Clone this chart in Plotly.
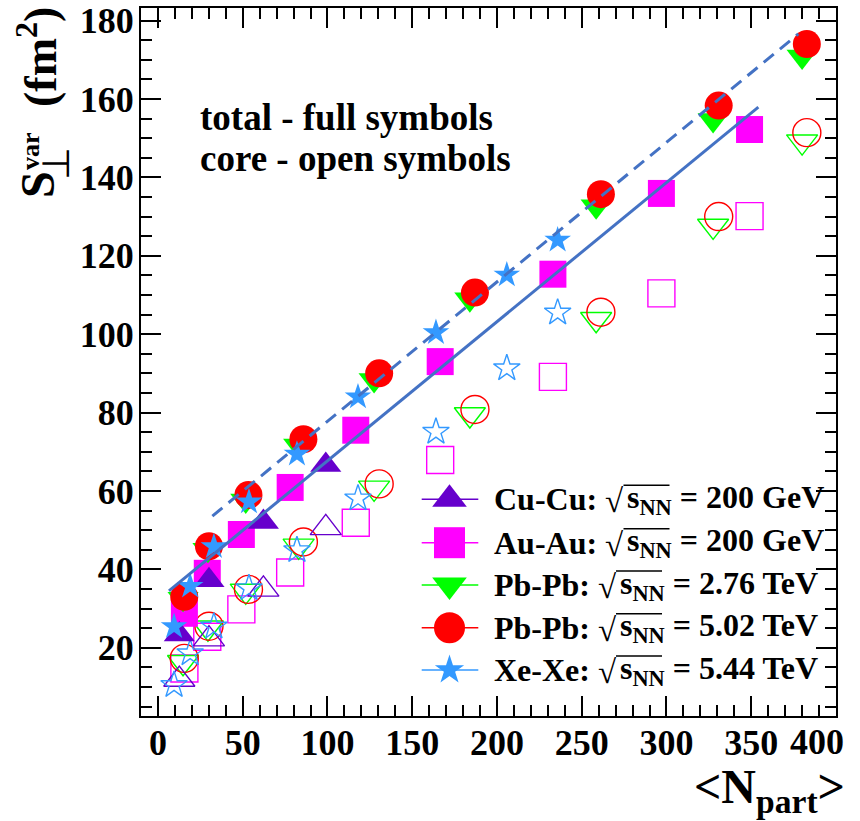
import plotly.graph_objects as go

# ---------------- data ----------------
cucu_npart = [99.0, 62.2, 30.1, 12.6]
cucu_total = [66.6, 52.1, 37.2, 23.4]
cucu_core = [50.6, 34.9, 22.2, 11.9]

auau_npart = [349.0, 297.0, 233.0, 166.5, 116.7, 78.0, 49.2, 29.1, 15.6]
auau_total = [152.2, 135.9, 115.3, 93.0, 75.5, 60.9, 48.9, 39.0, 28.8]
auau_core = [130.1, 110.4, 89.1, 67.9, 51.9, 39.2, 29.8, 22.8, 14.7]

pb276_npart = [380.0, 327.5, 258.5, 184.0, 127.5, 83.0, 51.8, 29.5, 14.8]
pb276_total = [170.8, 154.6, 132.6, 108.9, 88.3, 71.6, 57.6, 45.0, 32.5]
pb276_core = [149.1, 127.6, 103.8, 79.5, 60.8, 46.0, 34.5, 25.1, 16.3]

pb502_npart = [382.8, 330.8, 261.3, 187.0, 130.5, 85.8, 53.4, 30.1, 15.5]
pb502_total = [174.0, 158.3, 135.7, 110.6, 90.0, 73.2, 59.0, 45.9, 33.0]
pb502_core = [151.4, 130.0, 105.6, 80.8, 61.8, 47.0, 34.9, 25.5, 17.3]

xexe_npart = [235.8, 205.8, 164.0, 118.0, 82.0, 53.7, 33.0, 19.0, 9.5]
xexe_total = [124.0, 115.1, 100.4, 84.0, 69.4, 57.2, 45.8, 35.7, 25.4]
xexe_core = [105.5, 91.3, 75.1, 58.1, 44.9, 35.2, 25.4, 18.6, 10.5]

# straight-line fits drawn on the chart (end points)
fit_dashed_x = [32.1, 377.8]
fit_dashed_y = [53.6, 176.6]
fit_solid_x = [6.5, 354.2]
fit_solid_y = [34.5, 157.9]

x_ticks = [0, 50, 100, 150, 200, 250, 300, 350, 400]
# last label is drawn shifted inside the frame (as in the reference)
x_ticktext = ["0", "50", "100", "150", "200", "250", "300", "350", ""]
x_last_label = "400"
y_ticks = [20, 40, 60, 80, 100, 120, 140, 160, 180]

systems = ["Cu-Cu:", "Au-Au:", "Pb-Pb:", "Pb-Pb:", "Xe-Xe:"]
energies = ["= 200 GeV", "= 200 GeV", "= 2.76 TeV", "= 5.02 TeV", "= 5.44 TeV"]

# ---------------- style ----------------
FONT = "Liberation Serif"
C_CU = "#6600CC"
C_AU = "#FF00FF"
C_PB276 = "#00FF00"
C_PB502 = "#FF0000"
C_XE = "#3399FF"
C_FIT = "#4472C4"

W, H = 860, 821
PL, PR, PT, PB = 141, 836, 8, 716


def px(x):
    return (x - PL) / (PR - PL)


def py(y):
    return (PB - y) / (PB - PT)


fig = go.Figure()

series = [
    (auau_npart, auau_total, auau_core, C_AU, "square", 27),
    (pb276_npart, pb276_total, pb276_core, C_PB276, "triangle-down", 27),
    (pb502_npart, pb502_total, pb502_core, C_PB502, "circle", 28),
    (cucu_npart, cucu_total, cucu_core, C_CU, "triangle-up", 27),
    (xexe_npart, xexe_total, xexe_core, C_XE, "star", 20),
]

# open symbols (core)
for xs, tot, core, col, sym, size in series:
    fig.add_trace(go.Scatter(
        x=xs, y=core, mode="markers", showlegend=False,
        marker=dict(symbol=sym + "-open", size=size, color=col,
                    line=dict(width=1.4, color=col))))
# full symbols (total)
for xs, tot, core, col, sym, size in series:
    fig.add_trace(go.Scatter(
        x=xs, y=tot, mode="markers", showlegend=False,
        marker=dict(symbol=sym, size=size, color=col, line=dict(width=0))))

# fit lines
fig.add_trace(go.Scatter(x=fit_dashed_x, y=fit_dashed_y, mode="lines",
                         showlegend=False,
                         line=dict(color=C_FIT, width=3, dash="13px,8px")))
fig.add_trace(go.Scatter(x=fit_solid_x, y=fit_solid_y, mode="lines",
                         showlegend=False,
                         line=dict(color=C_FIT, width=3)))

# ---------------- hand-made legend on an overlay axis ----------------
leg_rows = [499.3, 542.7, 585.0, 627.7, 670.0]
leg_syms = [("triangle-up", C_CU, 30), ("square", C_AU, 31),
            ("triangle-down", C_PB276, 30), ("circle", C_PB502, 31),
            ("star", C_XE, 22)]
annotations = []
shapes = []
s_left = [625.0, 625.0, 617.5, 617.5, 617.5]
for i, yrow in enumerate(leg_rows):
    sym, col, size = leg_syms[i]
    fig.add_trace(go.Scatter(x=[px(421.7), px(478.3)], y=[py(yrow), py(yrow)],
                             mode="lines", xaxis="x2", yaxis="y2",
                             showlegend=False, line=dict(color=col, width=1.5)))
    fig.add_trace(go.Scatter(x=[px(449.5)], y=[py(yrow)], mode="markers",
                             xaxis="x2", yaxis="y2", showlegend=False,
                             marker=dict(symbol=sym, size=size, color=col)))
    annotations.append(dict(
        text=systems[i], xref="paper", yref="paper", x=px(491.7), y=py(yrow),
        xanchor="left", yanchor="middle", showarrow=False,
        font=dict(family=FONT, size=32, color="black", weight="bold")))
    annotations.append(dict(
        text="√", xref="paper", yref="paper", x=px(s_left[i] + 1), y=py(yrow + 2),
        xanchor="right", yanchor="middle", showarrow=False,
        font=dict(family=FONT, size=33, color="black", weight="normal")))
    annotations.append(dict(
        text="s<sub>NN</sub> " + energies[i], xref="paper", yref="paper",
        x=px(s_left[i]), y=py(yrow), xanchor="left", yanchor="middle",
        showarrow=False,
        font=dict(family=FONT, size=32, color="black", weight="bold")))
    shapes.append(dict(type="line", xref="paper", yref="paper",
                       x0=px(s_left[i] - 1.5), x1=px(s_left[i] + 44.5),
                       y0=py(yrow - 14), y1=py(yrow - 14),
                       line=dict(color="black", width=1.5)))

# ---------------- texts ----------------
annotations += [
    dict(text="total - full symbols", xref="paper", yref="paper",
         x=px(198), y=py(118), xanchor="left", yanchor="middle",
         showarrow=False,
         font=dict(family=FONT, size=37, color="black", weight="bold")),
    dict(text="core - open symbols", xref="paper", yref="paper",
         x=px(198), y=py(158), xanchor="left", yanchor="middle",
         showarrow=False,
         font=dict(family=FONT, size=37, color="black", weight="bold")),
    # last x tick label, kept inside the canvas
    dict(text=x_last_label, xref="paper", yref="paper",
         x=px(846), y=py(742), xanchor="right", yanchor="middle",
         showarrow=False,
         font=dict(family=FONT, size=36, color="black", weight="bold")),
    # x title
    dict(text="&lt;N<sub>part</sub>&gt;", xref="paper", yref="paper",
         x=px(847), y=py(790), xanchor="right", yanchor="middle",
         showarrow=False,
         font=dict(family=FONT, size=48, color="black", weight="bold")),
    # y title pieces (rotated)
    dict(text="S", xref="paper", yref="paper", x=px(37), y=py(185),
         xanchor="center", yanchor="middle", textangle=-90, showarrow=False,
         font=dict(family=FONT, size=48, color="black", weight="bold")),
    dict(text="var", xref="paper", yref="paper", x=px(30), y=py(151),
         xanchor="center", yanchor="middle", textangle=-90, showarrow=False,
         font=dict(family=FONT, size=26, color="black", weight="bold")),
    dict(text="⊥", xref="paper", yref="paper", x=px(56), y=py(164),
         xanchor="center", yanchor="middle", textangle=-90, showarrow=False,
         font=dict(family=FONT, size=38, color="black", weight="normal")),
    dict(text="(fm<sup>2</sup>)", xref="paper", yref="paper", x=px(37), y=py(57),
         xanchor="center", yanchor="middle", textangle=-90, showarrow=False,
         font=dict(family=FONT, size=46, color="black", weight="bold")),
]

tickfont = dict(family=FONT, size=36, color="black", weight="bold")
fig.update_layout(
    width=W, height=H, autosize=False,
    margin=dict(l=PL, r=W - PR, t=PT, b=H - PB, pad=0),
    paper_bgcolor="white", plot_bgcolor="white",
    showlegend=False,
    xaxis=dict(range=[-10, 400], tickmode="array", tickvals=x_ticks,
               ticktext=x_ticktext, automargin=False, ticklabelstandoff=-6,
               ticks="inside", ticklen=20, tickwidth=1.5, tickcolor="black",
               showline=True, linewidth=2, linecolor="black", mirror="allticks",
               showgrid=False, zeroline=False, tickfont=tickfont,
               minor=dict(ticks="inside", ticklen=11, tickwidth=1.5,
                          tickcolor="black", dtick=10, tick0=0, showgrid=False)),
    yaxis=dict(range=[2.6, 183.2], tickmode="array", tickvals=y_ticks,
               automargin=False, ticklabeloverflow="allow",
               ticklabelstandoff=-2,
               ticks="inside", ticklen=20, tickwidth=1.5, tickcolor="black",
               showline=True, linewidth=2, linecolor="black", mirror="allticks",
               showgrid=False, zeroline=False, tickfont=tickfont,
               minor=dict(ticks="inside", ticklen=11, tickwidth=1.5,
                          tickcolor="black", dtick=5, tick0=0, showgrid=False)),
    xaxis2=dict(range=[0, 1], overlaying="x", visible=False, fixedrange=True,
                automargin=False),
    yaxis2=dict(range=[0, 1], overlaying="y", visible=False, fixedrange=True,
                automargin=False),
    annotations=annotations,
    shapes=shapes,
)

fig.write_html("out.html",
               config={"displayModeBar": False},
               post_script="document.body.style.margin='0';"
                           "document.body.style.overflow='hidden';")
